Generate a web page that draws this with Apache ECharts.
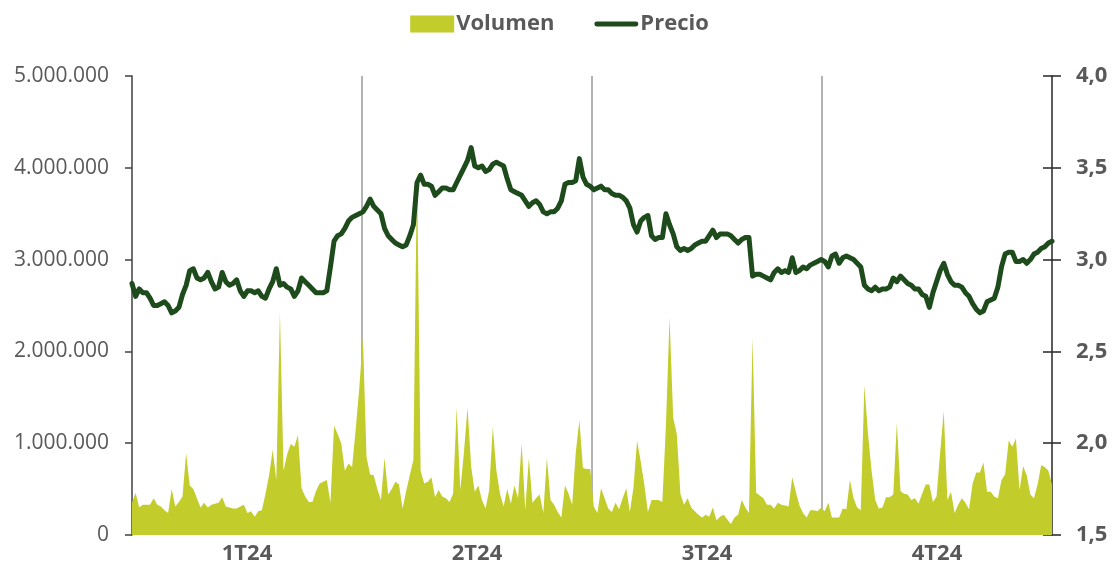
<!DOCTYPE html>
<html>
<head>
<meta charset="utf-8">
<script src="https://cdn.jsdelivr.net/npm/echarts@6/dist/echarts.min.js"></script>
<style>
  html, body { margin: 0; padding: 0; background: #fff; }
  #chart { width: 1119px; height: 567px; }
</style>
</head>
<body>
<div id="chart"></div>
<script>
// trimestres (eje inferior)
var quarters = ['1T24', '2T24', '3T24', '4T24'];

// volumen diario, en millones de acciones
var volumen = [
  0.35,0.46,0.30,0.33,0.33,0.33,0.40,0.33,0.31,0.27,
  0.24,0.50,0.31,0.36,0.42,0.89,0.54,0.50,0.40,0.30,
  0.35,0.30,0.33,0.34,0.35,0.41,0.31,0.30,0.29,0.29,
  0.31,0.33,0.24,0.26,0.20,0.26,0.27,0.45,0.65,0.93,
  0.60,2.43,0.70,0.88,0.99,0.96,1.09,0.51,0.42,0.36,
  0.36,0.48,0.56,0.58,0.60,0.35,1.19,1.10,1.00,0.70,
  0.78,0.74,1.15,1.60,2.16,0.85,0.66,0.65,0.50,0.38,
  0.84,0.44,0.50,0.58,0.55,0.29,0.48,0.65,0.82,4.00,
  0.70,0.56,0.58,0.63,0.41,0.49,0.42,0.40,0.36,0.45,
  1.39,0.49,0.90,1.39,0.75,0.47,0.54,0.38,0.29,0.49,
  1.18,0.70,0.45,0.31,0.50,0.34,0.54,0.40,1.00,0.27,
  0.84,0.35,0.40,0.44,0.24,0.84,0.38,0.33,0.25,0.19,
  0.54,0.45,0.33,0.90,1.25,0.73,0.72,0.72,0.31,0.24,
  0.51,0.40,0.29,0.25,0.35,0.28,0.40,0.51,0.25,0.52,
  1.03,0.80,0.55,0.25,0.38,0.38,0.38,0.36,1.20,2.37,
  1.28,1.10,0.45,0.33,0.40,0.30,0.26,0.22,0.19,0.22,
  0.20,0.30,0.16,0.20,0.22,0.17,0.12,0.19,0.22,0.38,
  0.30,0.24,2.15,0.46,0.43,0.40,0.33,0.33,0.29,0.35,
  0.33,0.32,0.31,0.63,0.47,0.32,0.24,0.19,0.27,0.27,
  0.26,0.30,0.26,0.35,0.19,0.19,0.19,0.29,0.28,0.60,
  0.40,0.30,0.27,1.63,1.10,0.70,0.38,0.29,0.30,0.41,
  0.41,0.44,1.22,0.48,0.45,0.44,0.38,0.40,0.34,0.45,
  0.55,0.55,0.36,0.42,0.90,1.35,0.38,0.47,0.24,0.33,
  0.40,0.35,0.28,0.56,0.68,0.68,0.79,0.47,0.47,0.42,
  0.40,0.60,0.66,1.03,0.96,1.05,0.49,0.75,0.65,0.44,
  0.40,0.55,0.76,0.74,0.70,0.55
];

// precio de cierre diario (euros)
var precio = [
  2.87,2.80,2.84,2.82,2.82,2.79,2.75,2.75,2.76,2.77,
  2.75,2.71,2.72,2.74,2.81,2.86,2.94,2.95,2.90,2.89,
  2.90,2.93,2.88,2.84,2.85,2.93,2.88,2.86,2.87,2.89,
  2.83,2.80,2.83,2.83,2.82,2.83,2.80,2.79,2.84,2.88,
  2.95,2.86,2.87,2.85,2.84,2.80,2.83,2.90,2.88,2.86,
  2.84,2.82,2.82,2.82,2.83,2.96,3.10,3.13,3.14,3.17,
  3.21,3.23,3.24,3.25,3.26,3.29,3.33,3.29,3.27,3.25,
  3.17,3.13,3.11,3.09,3.08,3.07,3.08,3.13,3.19,3.42,
  3.46,3.41,3.41,3.40,3.35,3.37,3.39,3.39,3.38,3.38,
  3.42,3.46,3.50,3.54,3.61,3.51,3.50,3.51,3.48,3.49,
  3.52,3.53,3.52,3.51,3.44,3.38,3.37,3.36,3.35,3.32,
  3.29,3.31,3.32,3.30,3.26,3.25,3.26,3.26,3.28,3.32,
  3.41,3.42,3.42,3.43,3.55,3.45,3.41,3.40,3.38,3.39,
  3.40,3.38,3.38,3.36,3.35,3.35,3.34,3.32,3.28,3.19,
  3.15,3.21,3.23,3.24,3.13,3.11,3.12,3.12,3.25,3.19,
  3.14,3.07,3.05,3.06,3.05,3.06,3.08,3.09,3.10,3.10,
  3.13,3.16,3.12,3.14,3.14,3.14,3.13,3.11,3.09,3.11,
  3.12,3.12,2.91,2.92,2.92,2.91,2.90,2.89,2.93,2.95,
  2.93,2.94,2.93,3.01,2.93,2.94,2.96,2.95,2.97,2.98,
  2.99,3.00,2.99,2.96,3.02,3.03,2.98,3.01,3.02,3.01,
  3.00,2.98,2.96,2.86,2.84,2.83,2.85,2.83,2.84,2.84,
  2.85,2.90,2.88,2.91,2.89,2.87,2.86,2.84,2.84,2.81,
  2.80,2.74,2.82,2.88,2.94,2.98,2.92,2.88,2.86,2.86,
  2.85,2.82,2.80,2.76,2.73,2.71,2.72,2.77,2.78,2.79,
  2.85,2.96,3.03,3.04,3.04,2.99,2.99,3.00,2.98,3.00,
  3.03,3.04,3.06,3.07,3.09,3.10
];

var days = volumen.map(function (v, i) { return i + 1; });

function miles(n) {
    return String(Math.round(n)).replace(/\B(?=(\d{3})+(?!\d))/g, '.');
}

var myChart = echarts.init(document.getElementById('chart'));

var option = {
    animation: false,
    textStyle: { fontFamily: 'Open Sans' },
    legend: {
        top: 8,
        left: 'center',
        itemWidth: 44,
        itemHeight: 17,
        itemGap: 40,
        textStyle: { color: '#595959', fontSize: 22, fontWeight: 'bold', padding: [0, 0, 0, -3] },
        data: [
            { name: 'Volumen', icon: 'rect' },
            { name: 'Precio', icon: 'path://M2.5,0H43.5A2.5,2.5 0 0 1 43.5,5H2.5A2.5,2.5 0 0 1 2.5,0Z' }
        ]
    },
    grid: { left: 132, right: 67, top: 76, bottom: 32 },
    xAxis: [
        {
            type: 'category',
            data: days,
            boundaryGap: false,
            show: false
        },
        {
            type: 'category',
            data: quarters,
            position: 'bottom',
            boundaryGap: true,
            axisLine: { show: false },
            axisTick: { show: false },
            axisLabel: { color: '#595959', fontSize: 22, fontWeight: 'bold', margin: 8 },
            splitLine: {
                show: true,
                showMinLine: false,
                showMaxLine: false,
                lineStyle: { color: '#9a9a9a', width: 1.5 }
            }
        }
    ],
    yAxis: [
        {
            type: 'value',
            min: 0,
            max: 5,
            interval: 1,
            position: 'left',
            axisLine: { show: true, lineStyle: { color: '#404040', width: 1.5 } },
            axisTick: { show: true, length: 7, lineStyle: { color: '#404040', width: 1.5 } },
            axisLabel: {
                color: '#595959',
                fontSize: 21,
                margin: 23,
                formatter: function (v) { return miles(v * 1000000); }
            },
            splitLine: { show: false }
        },
        {
            type: 'value',
            min: 1.5,
            max: 4,
            interval: 0.5,
            position: 'right',
            axisLine: { show: true, lineStyle: { color: '#262626', width: 1.5 } },
            axisTick: { show: true, length: 9, lineStyle: { color: '#262626', width: 1.5 } },
            axisLabel: {
                color: '#595959',
                fontSize: 22,
                fontWeight: 'bold',
                margin: 24,
                formatter: function (v) { return v.toFixed(1).replace('.', ','); }
            },
            splitLine: { show: false }
        },
        {
            // marcas hacia dentro del eje derecho
            type: 'value',
            min: 1.5,
            max: 4,
            interval: 0.5,
            position: 'right',
            axisLine: { show: false },
            axisTick: { show: true, inside: true, length: 9, lineStyle: { color: '#262626', width: 1.5 } },
            axisLabel: { show: false },
            splitLine: { show: false }
        }
    ],
    series: [
        {
            name: 'Volumen',
            type: 'line',
            xAxisIndex: 0,
            yAxisIndex: 0,
            data: volumen,
            symbol: 'none',
            color: '#C2CC2B',
            lineStyle: { width: 0 },
            areaStyle: { color: '#C2CC2B', opacity: 1 },
            z: 2
        },
        {
            name: 'Precio',
            type: 'line',
            xAxisIndex: 0,
            yAxisIndex: 1,
            data: precio,
            symbol: 'none',
            color: '#1E4B1B',
            lineStyle: { width: 5, color: '#1E4B1B', join: 'round', cap: 'round' },
            z: 3
        }
    ]
};

myChart.setOption(option);
</script>
</body>
</html>
